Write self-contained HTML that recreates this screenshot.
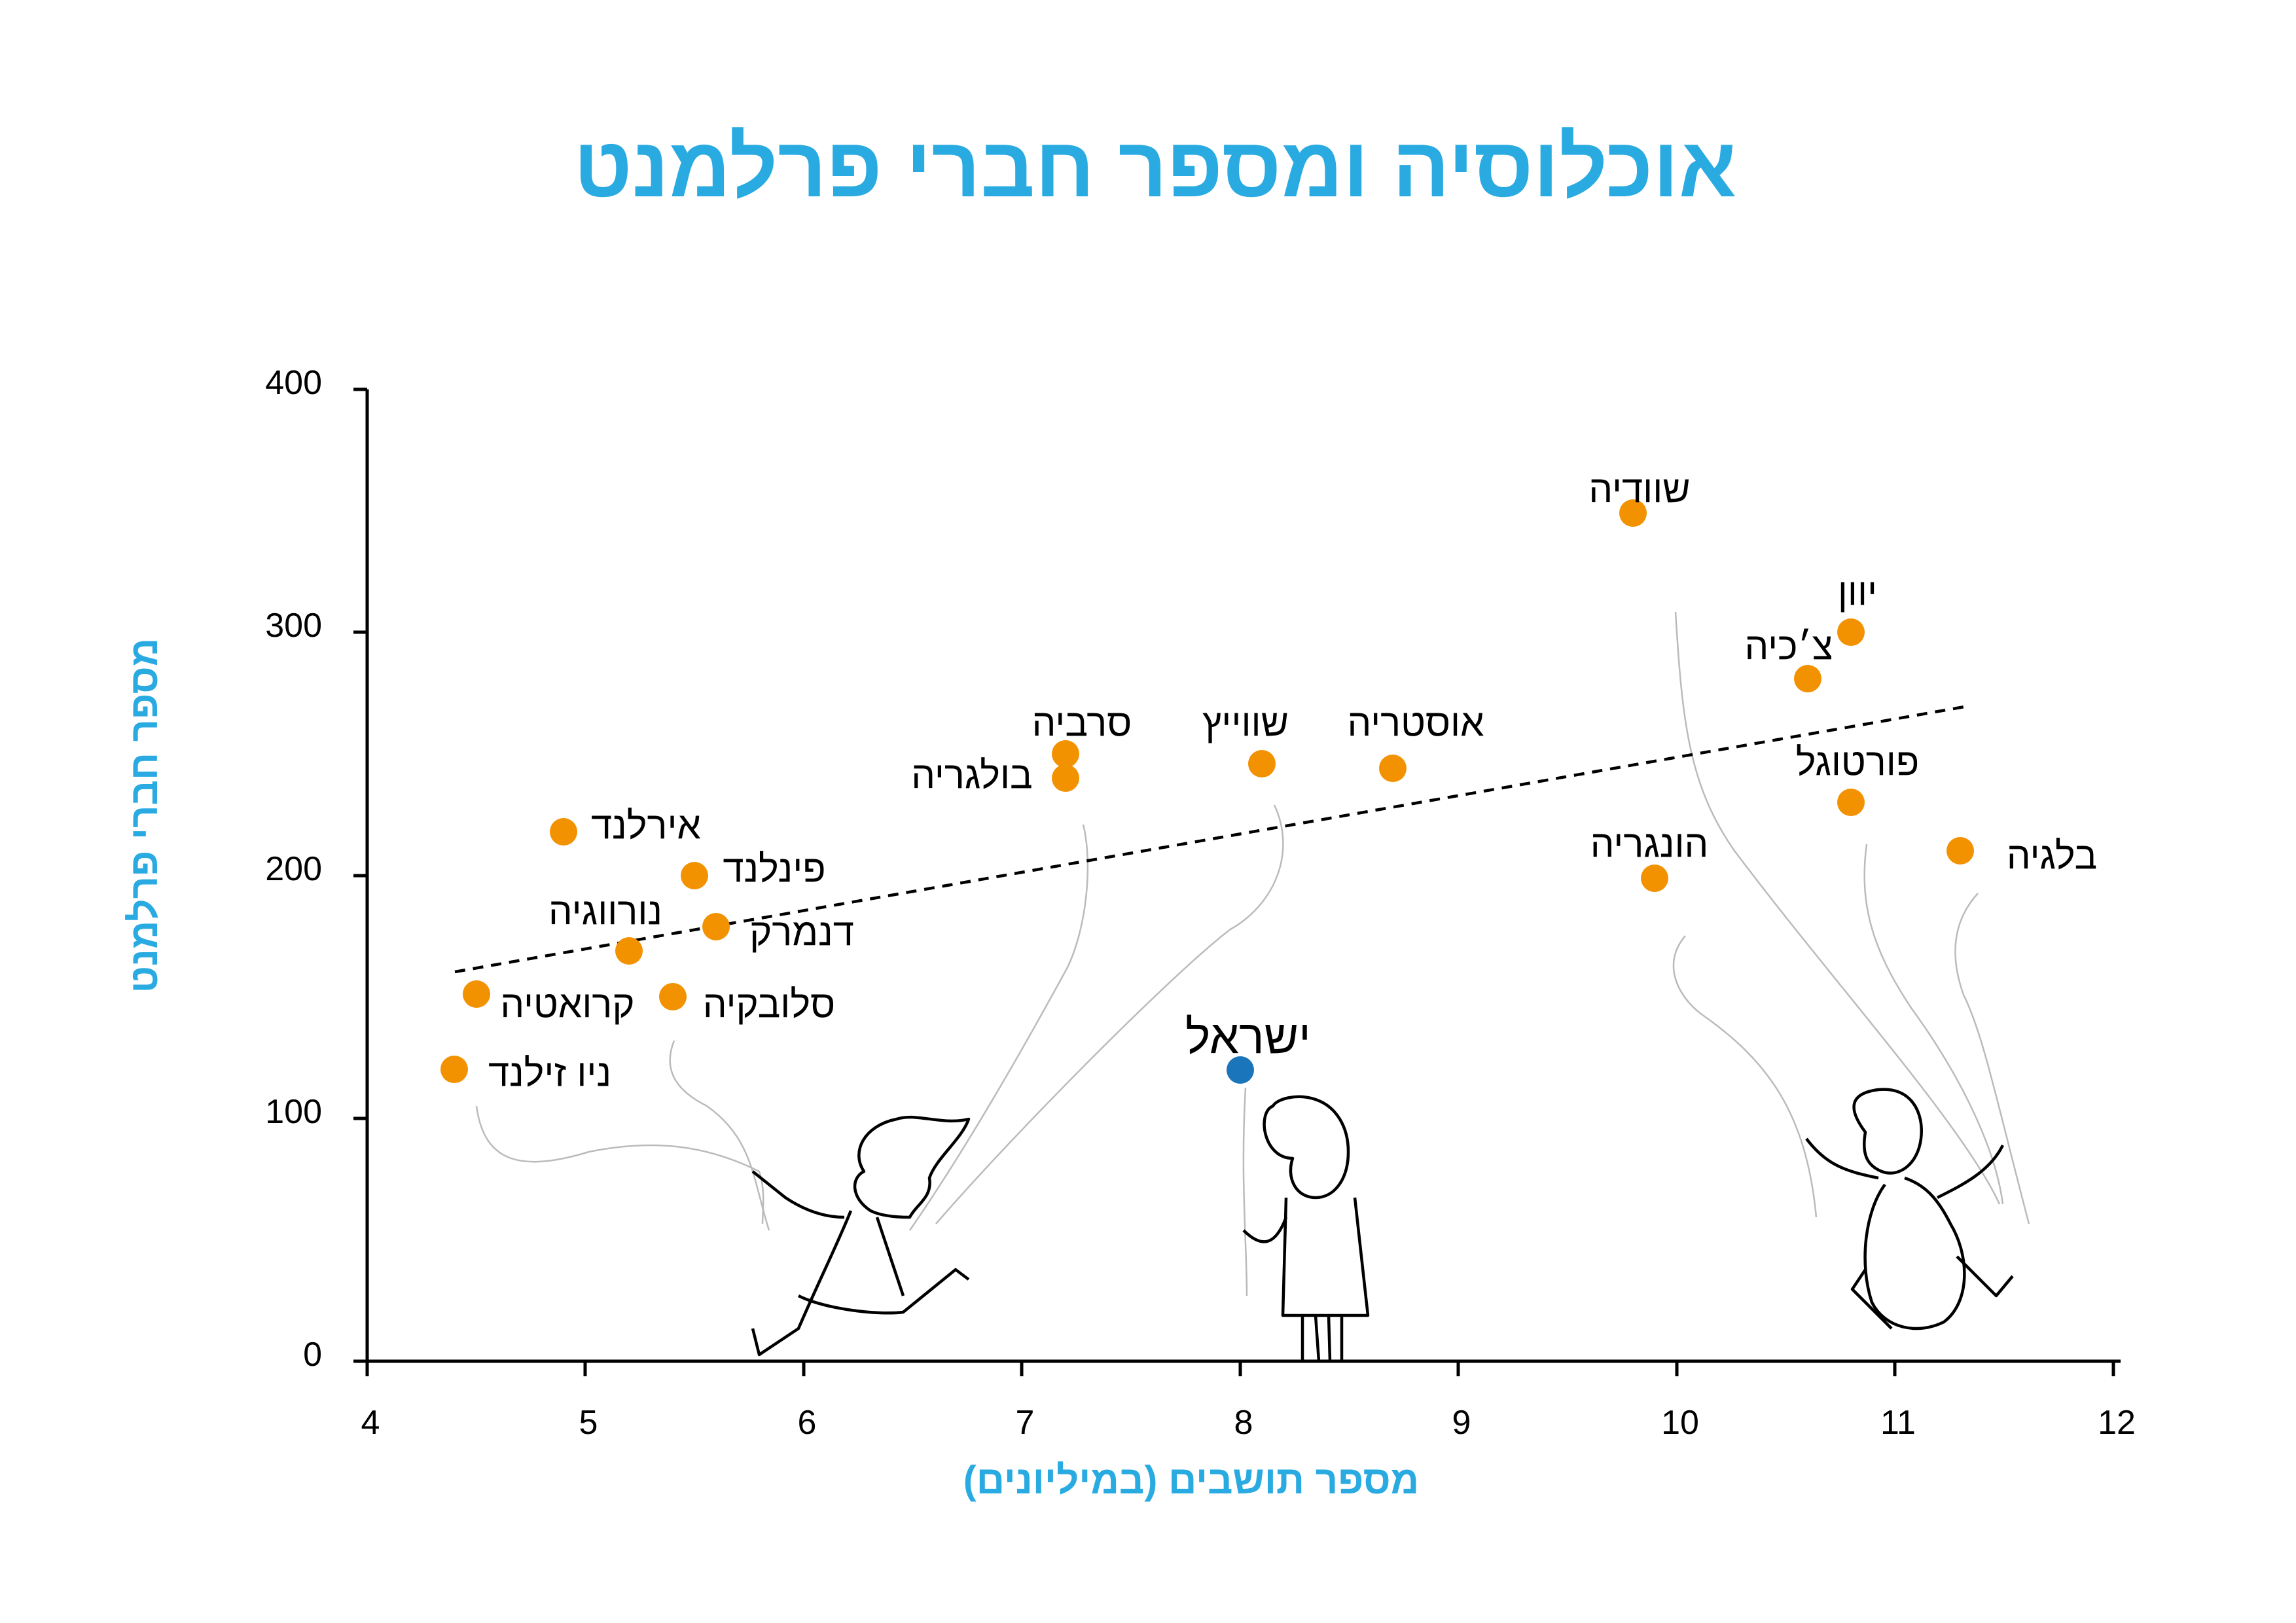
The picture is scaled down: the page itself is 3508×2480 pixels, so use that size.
<!DOCTYPE html>
<html><head><meta charset="utf-8"><style>
html,body{margin:0;padding:0;background:#fff}
svg{display:block}
text{font-family:"Liberation Sans","Noto Sans CJK SC",sans-serif}
</style></head><body>
<svg width="3508" height="2480" viewBox="0 0 3508 2480" xmlns="http://www.w3.org/2000/svg">
<rect width="3508" height="2480" fill="#fff"/>
<text x="1765" y="300" text-anchor="middle" font-size="130" font-weight="bold" fill="#29abe2" direction="rtl">אוכלוסיה ומספר חברי פרלמנט</text>
<g stroke="#000" stroke-width="5" fill="none">
<line x1="561" y1="595" x2="561" y2="2080"/>
<line x1="540" y1="2080" x2="3240" y2="2080"/>
<line x1="540" y1="595" x2="561" y2="595"/>
<line x1="540" y1="966" x2="561" y2="966"/>
<line x1="540" y1="1338" x2="561" y2="1338"/>
<line x1="540" y1="1709" x2="561" y2="1709"/>
</g>
<g stroke="#000" stroke-width="5">
<line x1="561" y1="2080" x2="561" y2="2103"/><line x1="894" y1="2080" x2="894" y2="2103"/><line x1="1228" y1="2080" x2="1228" y2="2103"/><line x1="1561" y1="2080" x2="1561" y2="2103"/><line x1="1895" y1="2080" x2="1895" y2="2103"/><line x1="2228" y1="2080" x2="2228" y2="2103"/><line x1="2562" y1="2080" x2="2562" y2="2103"/><line x1="2895" y1="2080" x2="2895" y2="2103"/><line x1="3229" y1="2080" x2="3229" y2="2103"/>
</g>
<g font-size="52" fill="#000" text-anchor="end">
<text x="492" y="602">400</text><text x="492" y="973">300</text><text x="492" y="1345">200</text><text x="492" y="1716">100</text><text x="492" y="2087">0</text>
</g>
<g font-size="52" fill="#000" text-anchor="middle">
<text x="566" y="2191">4</text><text x="899" y="2191">5</text><text x="1233" y="2191">6</text><text x="1566" y="2191">7</text><text x="1900" y="2191">8</text><text x="2233" y="2191">9</text><text x="2567" y="2191">10</text><text x="2900" y="2191">11</text><text x="3234" y="2191">12</text>
</g>
<text x="1820" y="2282" text-anchor="middle" font-size="60" font-weight="bold" fill="#29abe2" direction="rtl">מספר תושבים (במיליונים)</text>
<text transform="translate(240,1246) rotate(-90)" text-anchor="middle" font-size="60" font-weight="bold" fill="#29abe2" direction="rtl">מספר חברי פרלמנט</text>
<g stroke="#bbb" stroke-width="2.5" fill="none">
<path d="M728 1690 C740 1780 800 1790 900 1760 C1000 1740 1080 1750 1160 1790 C1170 1820 1165 1850 1165 1870"/>
<path d="M1030 1590 C1010 1640 1040 1670 1080 1690 C1150 1740 1150 1800 1175 1880"/>
<path d="M1655 1260 C1670 1320 1660 1420 1630 1480 C1570 1590 1480 1750 1390 1880"/>
<path d="M1947 1230 C1980 1300 1950 1380 1880 1420 C1800 1480 1560 1720 1430 1870"/>
<path d="M1903 1662 C1895 1800 1905 1900 1905 1980"/>
<path d="M2560 935 C2570 1100 2580 1200 2650 1300 C2800 1500 3000 1720 3055 1840"/>
<path d="M2575 1430 C2540 1470 2560 1520 2600 1550 C2700 1620 2760 1700 2775 1860"/>
<path d="M2852 1290 C2840 1380 2860 1450 2920 1540 C3000 1650 3050 1760 3060 1840"/>
<path d="M3022 1365 C2990 1400 2975 1450 3000 1520 C3030 1580 3050 1680 3100 1870"/>
</g>
<line x1="695" y1="1485" x2="3007" y2="1079" stroke="#000" stroke-width="4.5" stroke-dasharray="16,12"/>
<g fill="#f39200">
<circle cx="694" cy="1634" r="21"/><circle cx="728" cy="1519" r="21"/><circle cx="861" cy="1271" r="21"/><circle cx="961" cy="1453" r="21"/><circle cx="1028" cy="1523" r="21"/><circle cx="1061" cy="1338" r="21"/><circle cx="1094" cy="1416" r="21"/>
<circle cx="1628" cy="1189" r="21"/><circle cx="1628" cy="1152" r="21"/><circle cx="1928" cy="1167" r="21"/><circle cx="2128" cy="1174" r="21"/><circle cx="2495" cy="784" r="21"/><circle cx="2528" cy="1342" r="21"/><circle cx="2762" cy="1037" r="21"/><circle cx="2828" cy="966" r="21"/><circle cx="2828" cy="1226" r="21"/><circle cx="2995" cy="1300" r="21"/>
</g>
<circle cx="1895" cy="1635" r="21" fill="#1b75bb"/>
<g font-size="58" fill="#000" text-anchor="middle" dominant-baseline="central" direction="rtl">
<text x="2505" y="748">שוודיה</text>
<text x="2838" y="905">יוון</text>
<text x="2733" y="988">צ׳כיה</text>
<text x="2838" y="1165">פורטוגל</text>
<text x="3135" y="1308">בלגיה</text>
<text x="2520" y="1290">הונגריה</text>
<text x="2163" y="1105">אוסטריה</text>
<text x="1903" y="1105">שווייץ</text>
<text x="1653" y="1105">סרביה</text>
<text x="1485" y="1185">בולגריה</text>
<text x="987" y="1262">אירלנד</text>
<text x="1183" y="1328">פינלנד</text>
<text x="925" y="1393">נורווגיה</text>
<text x="1225" y="1425">דנמרק</text>
<text x="867" y="1535">קרואטיה</text>
<text x="1175" y="1535">סלובקיה</text>
<text x="840" y="1640">ניו זילנד</text>
<text x="1907" y="1585" font-size="72">ישראל</text>
</g>
<g stroke="#000" stroke-width="4.5" fill="none" stroke-linejoin="round">
<path d="M1320 1790 C1300 1760 1320 1720 1370 1710 C1400 1700 1440 1720 1480 1710 C1470 1740 1430 1770 1420 1800 C1425 1830 1400 1840 1390 1860 C1380 1860 1350 1860 1330 1850 C1300 1830 1300 1800 1320 1790 Z"/>
<path d="M1300 1850 C1280 1900 1250 1960 1220 2030 L1160 2070 L1150 2030"/>
<path d="M1220 1980 C1260 2000 1340 2010 1380 2005 L1460 1940 L1480 1955"/>
<path d="M1340 1860 L1380 1980"/>
<path d="M1290 1860 C1260 1860 1230 1850 1200 1830 L1150 1790"/>
<path d="M1975 1770 C1930 1770 1920 1700 1945 1690 C1950 1680 1980 1670 2010 1680 C2040 1690 2060 1720 2060 1760 C2060 1800 2040 1830 2010 1830 C1980 1830 1965 1800 1975 1770 Z"/>
<path d="M1965 1830 L1960 2010 L2090 2010 L2070 1830"/>
<path d="M1990 2010 L1990 2080 M2010 2010 L2015 2080 M2030 2010 L2032 2080 M2050 2010 L2050 2080"/>
<path d="M1965 1860 C1950 1900 1930 1910 1900 1880"/>
<path d="M2850 1730 C2820 1690 2830 1670 2870 1665 C2920 1660 2940 1700 2935 1740 C2930 1780 2900 1800 2875 1790 C2850 1780 2845 1760 2850 1730 Z"/>
<path d="M2880 1810 C2850 1850 2840 1930 2860 1990 C2880 2030 2930 2040 2970 2020 C3010 1990 3010 1920 2980 1870 C2960 1830 2940 1810 2910 1800"/>
<path d="M2870 1800 C2820 1790 2790 1780 2760 1740"/>
<path d="M2960 1830 C3000 1810 3040 1790 3060 1750"/>
<path d="M2850 1940 L2830 1970 L2890 2030 M2990 1920 L3050 1980 L3075 1950"/>
</g>
</svg>
</body></html>
